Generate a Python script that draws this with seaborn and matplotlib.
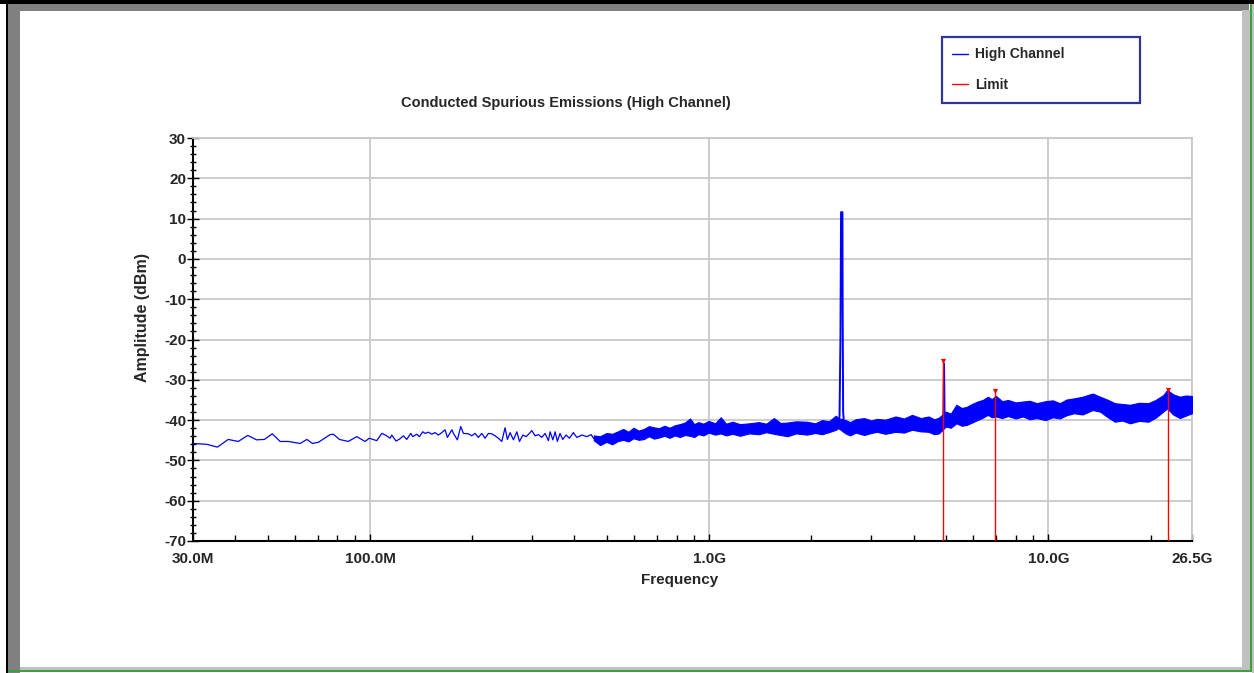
import numpy as np
import pandas as pd
import matplotlib
matplotlib.use("Agg")
import matplotlib.pyplot as plt
import matplotlib.ticker as mticker
from matplotlib.patches import Rectangle
from matplotlib.lines import Line2D
import seaborn as sns

# low frequency part of the trace (single visible line), MHz / dBm
lf_freq_mhz = [30.0, 32.9, 35.4, 38.1, 40.8, 43.5, 46.2, 48.7, 51.4, 54.2, 57.3, 62.1, 65.0, 67.5, 70.3,
               76.1, 77.8, 81.1, 86.1, 91.2, 96.5, 99.3, 104.5, 108.1, 111.3, 114.4, 115.7, 119.1, 122.0,
               125.2, 128.1, 131.6, 133.4, 137.1, 139.6, 142.8, 145.0, 148.4, 151.8, 155.2, 158.7, 161.4,
               166.1, 168.8, 174.0, 175.9, 180.6, 184.8, 188.2, 194.7, 199.2, 203.7, 208.3, 213.1, 218.0,
               223.0, 228.1, 233.4, 238.6, 244.2, 249.7, 253.7, 258.4, 264.3, 270.5, 275.4, 281.8, 288.1,
               294.6, 299.4, 306.2, 313.2, 320.5, 327.7, 335.2, 339.1, 345.4, 350.8, 356.2, 362.6, 369.4,
               378.0, 386.5, 397.1, 406.5, 420.6, 435.0, 448.0, 456.0]
lf_dbm = [-45.8, -46.0, -46.7, -44.8, -45.3, -43.8, -44.9, -44.8, -43.4, -45.3, -45.3, -45.8, -44.8, -45.8, -45.5,
          -43.6, -43.5, -44.8, -45.3, -44.1, -45.3, -44.5, -45.1, -43.3, -43.8, -44.5, -43.7, -45.2, -44.7,
          -43.9, -44.8, -43.3, -44.1, -43.5, -44.1, -42.9, -43.3, -43.0, -43.5, -43.1, -43.7, -43.3,
          -42.4, -44.3, -42.4, -43.3, -44.9, -41.6, -43.3, -43.4, -43.9, -43.3, -44.3, -43.3, -44.5,
          -43.3, -43.4, -43.9, -44.5, -45.3, -41.9, -44.8, -43.1, -44.9, -42.9, -45.3, -43.7, -44.1,
          -43.3, -42.6, -43.9, -43.6, -44.3, -43.3, -45.1, -42.9, -44.9, -42.9, -45.3, -43.3, -44.8,
          -43.7, -44.5, -43.1, -44.3, -43.7, -44.1, -43.6, -44.6]

# dense part of the sweep, read as a lower/upper envelope
band_freq_mhz = [456, 476, 497, 517, 537, 557, 577, 597, 619, 641, 663, 686, 711, 737, 763, 790, 818, 847,
                 877, 902, 928, 960, 995, 1040, 1080, 1120, 1170, 1230, 1310, 1400, 1470, 1550, 1620, 1700,
                 1800, 1940, 2050, 2150, 2250, 2360, 2400, 2520, 2600, 2700, 2860, 3000, 3120, 3300, 3540,
                 3750, 3960, 4200, 4430, 4600, 4750, 4980, 5150, 5350, 5550, 5740, 5950, 6170, 6400, 6630,
                 6800, 7000, 7300, 7600, 8000, 8400, 8800, 9230, 9800, 10300, 10800, 11300, 11900, 12600,
                 13500, 14200, 14900, 15700, 16500, 17400, 18500, 19700, 20700, 21800, 22400, 23300, 24400,
                 25400, 26500]
band_low = [-45.0, -46.2, -45.4, -46.0, -45.2, -44.9, -45.3, -44.5, -44.9, -44.7, -44.0, -44.6, -44.3, -43.9,
            -44.4, -43.8, -44.2, -43.7, -43.9, -44.2, -43.5, -43.8, -43.1, -43.6, -43.3, -43.8, -43.4, -43.9,
            -43.3, -43.5, -43.0, -43.4, -43.7, -44.0, -43.3, -43.6, -43.2, -43.5, -43.0, -42.4, -42.0, -43.3,
            -43.8, -43.1, -43.7, -43.2, -42.9, -43.4, -42.9, -43.1, -42.4, -42.8, -42.9, -43.5, -43.3, -41.6,
            -41.9, -40.8, -41.4, -41.2, -40.6, -40.0, -39.4, -38.7, -39.3, -39.1, -39.5, -39.0, -39.6, -39.1,
            -39.8, -39.5, -40.0, -39.3, -39.6, -38.8, -38.3, -38.6, -37.5, -37.9, -39.2, -40.4, -40.1, -40.8,
            -40.2, -40.4, -39.4, -37.9, -37.1, -38.6, -39.5, -38.9, -38.3]
band_high = [-43.8, -44.0, -43.2, -43.4, -42.8, -42.2, -42.9, -41.9, -42.6, -42.2, -41.5, -41.8, -42.0, -41.4,
             -41.9, -41.3, -41.0, -40.6, -39.6, -41.0, -40.5, -40.9, -40.2, -40.8, -39.3, -40.9, -40.4, -41.0,
             -40.8, -40.5, -40.9, -39.5, -40.7, -40.6, -40.3, -40.4, -40.8, -40.0, -40.3, -38.9, -39.5, -40.0,
             -40.5, -39.8, -39.5, -40.1, -39.7, -39.9, -39.1, -39.6, -38.7, -39.5, -39.1, -39.8, -39.4, -37.9,
             -38.4, -36.2, -37.0, -36.7, -36.0, -35.4, -35.0, -34.2, -34.8, -34.0, -35.3, -35.0, -35.6, -35.4,
             -35.2, -35.8, -35.3, -35.1, -35.8, -34.9, -34.6, -34.2, -33.4, -34.2, -34.9, -35.8, -36.0, -36.2,
             -35.7, -35.8, -35.0, -33.8, -32.5, -33.6, -34.2, -33.9, -34.0]

# carrier and 2nd harmonic
carrier_freq_mhz = [2390, 2420, 2435, 2445, 2468, 2472, 2480, 2490, 2510]
carrier_dbm = [-41.5, -39.0, -20.0, 11.6, 11.6, -13.5, -38.0, -40.0, -41.5]
harm_freq_mhz = [4890, 4912, 4925, 4945]
harm_dbm = [-41.0, -26.0, -26.0, -40.0]

# limit markers
marker_freq_mhz = [4900, 6970, 22500]
marker_dbm = [-25.3, -32.7, -32.5]

sns.set_theme(style="white")
plt.rcParams['font.family'] = ['Liberation Sans', 'DejaVu Sans']
plt.rcParams['font.weight'] = 'bold'
plt.rcParams['axes.unicode_minus'] = False

W, H = 1254, 673
fig = plt.figure(figsize=(W / 100, H / 100), dpi=100)
fig.patch.set_facecolor('white')
ax = fig.add_axes([193 / W, 1 - 541 / H, (1192 - 193) / W, (541 - 138) / H])

blue = '#0000ff'
ax.fill_between(band_freq_mhz, band_low, band_high, facecolor=blue, edgecolor=blue, lw=0.8, zorder=3)
lf = pd.DataFrame({'freq': lf_freq_mhz, 'dbm': lf_dbm})
sns.lineplot(data=lf, x='freq', y='dbm', ax=ax, color=blue, lw=0.9, sort=False, estimator=None, zorder=3)
sns.lineplot(x=carrier_freq_mhz, y=carrier_dbm, ax=ax, color=blue, lw=1.4, sort=False, estimator=None, zorder=3)
sns.lineplot(x=harm_freq_mhz, y=harm_dbm, ax=ax, color=blue, lw=1.2, sort=False, estimator=None, zorder=3)

ax.vlines(marker_freq_mhz, -70, marker_dbm, color='#ff0000', lw=1, zorder=4)
ax.scatter(marker_freq_mhz, marker_dbm, marker='v', s=14, color='#ff0000', zorder=5, linewidths=0)

ax.set_xscale('log')
ax.set_xlim(30, 26500)
ax.set_ylim(-70, 30)
ax.set_xticks([30, 100, 1000, 10000, 26500])
ax.set_xticklabels(['30.0M', '100.0M', '1.0G', '10.0G', '26.5G'])
ax.xaxis.set_minor_locator(mticker.LogLocator(base=10, subs=np.arange(2, 10)))
ax.xaxis.set_minor_formatter(mticker.NullFormatter())
ax.set_yticks(range(-70, 31, 10))
ax.yaxis.set_minor_locator(mticker.MultipleLocator(2))
ax.set_xlabel('')
ax.set_ylabel('')

ax.grid(True, which='major', color='#c8c8c8', lw=1.3, zorder=0)
ax.set_axisbelow(True)
ax.tick_params(axis='y', which='major', direction='inout', length=8, width=1, color='black',
               labelsize=11, pad=1, left=True)
ax.tick_params(axis='y', which='minor', direction='inout', length=5, width=1, color='black', left=True)
ax.tick_params(axis='x', which='major', direction='in', length=5, width=1, color='black',
               labelsize=11, pad=8, bottom=True)
ax.tick_params(axis='x', which='minor', direction='in', length=4, width=1, color='black', bottom=True)
for lab in ax.get_xticklabels() + ax.get_yticklabels():
    lab.set_fontweight('bold')
for s in ['left', 'bottom']:
    ax.spines[s].set_color('black')
    ax.spines[s].set_linewidth(1.5)
for s in ['top', 'right']:
    ax.spines[s].set_color('#c8c8c8')
    ax.spines[s].set_linewidth(1.3)

fig.text(566 / W, 1 - 103 / H, 'Conducted Spurious Emissions (High Channel)', ha='center', va='center',
         fontsize=10.5, fontweight='bold')
fig.text(680 / W, 1 - 580 / H, 'Frequency', ha='center', va='center', fontsize=11, fontweight='bold')
fig.text(142 / W, 1 - 317 / H, 'Amplitude (dBm)', ha='center', va='center', rotation=90,
         fontsize=11.5, fontweight='bold')

handles = [Line2D([], [], color=blue, lw=1), Line2D([], [], color='#ff0000', lw=1)]
leg = fig.legend(handles, ['High Channel', 'Limit'], loc='upper left',
                 bbox_to_anchor=(942 / W, 1 - 98 / H, 198 / W, 61 / H), bbox_transform=fig.transFigure,
                 mode='expand', borderaxespad=0, frameon=True, fancybox=False, edgecolor='#000080',
                 fontsize=10, handlelength=1.1, labelspacing=1.2, borderpad=0.75, handletextpad=0.5)
leg.get_frame().set_linewidth(1.6)
for t in leg.get_texts():
    t.set_fontweight('bold')


def px_rect(x0, y0, x1, y1, color):
    fig.add_artist(Rectangle((x0 / W, 1 - y1 / H), (x1 - x0) / W, (y1 - y0) / H,
                             transform=fig.transFigure, facecolor=color, edgecolor='none'))


# window frame around the chart
px_rect(0, 0, W, 4, 'black')
px_rect(6, 0, 8, H, 'black')
px_rect(8, 4, 1249, 10.5, '#808080')
px_rect(8, 4, 20, H, '#808080')
px_rect(1242, 10, 1249.5, 670, '#c0c0c0')
px_rect(20, 667, 1249.5, 670, '#c0c0c0')
px_rect(1249.5, 4, 1251.5, 672, '#3ca03c')
px_rect(8, 670, 1251.5, 672, '#3ca03c')
px_rect(1251.5, 4, W, H, '#c0c0c0')

fig.savefig('out.png', dpi=100)
